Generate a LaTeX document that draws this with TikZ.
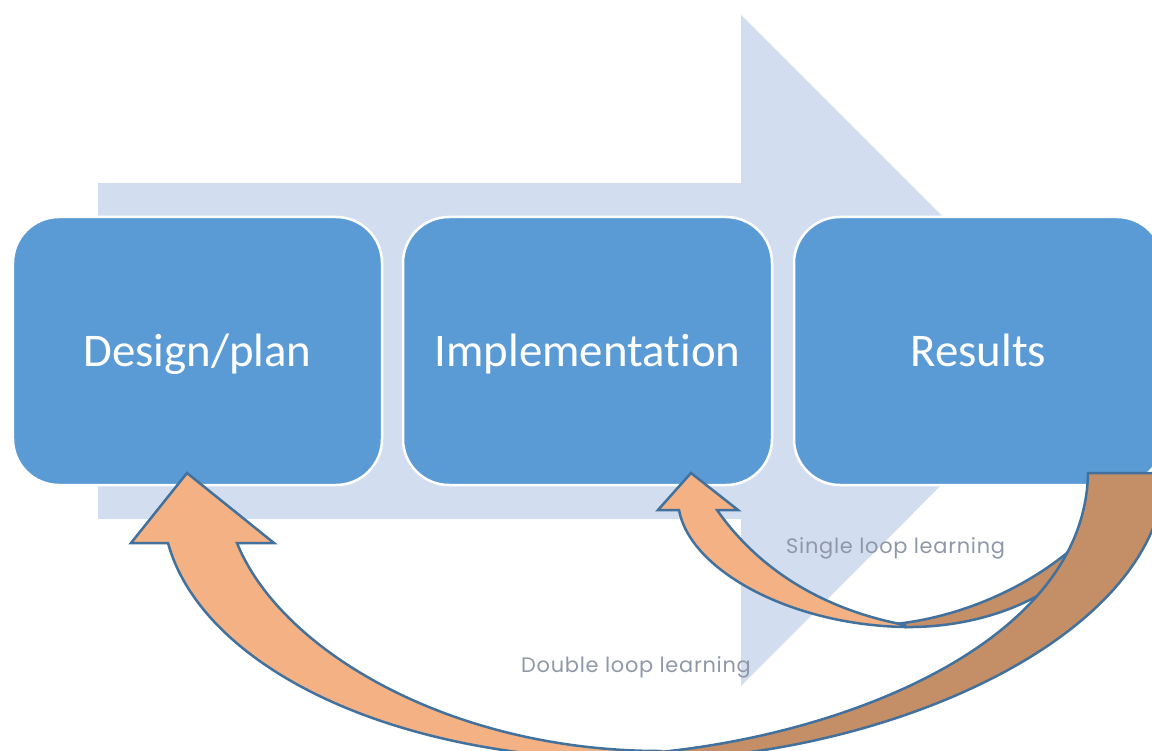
\documentclass[tikz,border=0pt]{standalone}
\usepackage{fontspec}
\usepackage{xcolor}
\setmainfont{Carlito}[Ligatures=NoCommon]
\newfontfamily\noteFont{Poppins}[LetterSpace=3.5]
\definecolor{bandColor}{HTML}{D2DEEF}
\definecolor{boxColor}{HTML}{5B9BD5}
\definecolor{loopFrontColor}{HTML}{F4B183}
\definecolor{loopBackColor}{HTML}{C48E66}
\definecolor{loopLineColor}{HTML}{41719C}
\definecolor{noteColor}{HTML}{8F98A8}
\def\textA{Design/plan}
\def\textB{Implementation}
\def\textC{Results}
\def\textD{Single loop learning}
\def\textE{Double loop learning}
\tikzset{
  stagebox/.style={draw=white, line width=2.5bp, fill=boxColor, rounded corners=46bp,
    minimum width=369bp, minimum height=268bp, inner sep=0pt, text=white,
    font=\fontsize{47}{56}\selectfont, text height=30bp, text depth=0bp},
  loopfront/.style={fill=loopFrontColor, draw=loopLineColor, line width=2.5bp},
  loopback/.style={fill=loopBackColor, draw=loopLineColor, line width=2.5bp},
  note/.style={text=noteColor, font=\noteFont\fontsize{21}{25}\selectfont,
    anchor=base west, inner sep=0pt}
}

\begin{document}
\begin{tikzpicture}[x=1bp,y=-1bp]
\useasboundingbox (0,0) rectangle (1152,751);
\clip (0,0) rectangle (1152,751);

% band layer
\begin{scope}
\fill[bandColor] (98,183) -- (741,183) -- (741,15) -- (1076,350)
  -- (741,686) -- (741,519) -- (98,519) -- cycle;
\end{scope}

% box layer
\begin{scope}
\node[stagebox] (design) at (197.5,351) {\textA};
\node[stagebox] (implement) at (587.5,351) {\textB};
\node[stagebox] (results) at (978.5,351) {\textC};
\end{scope}

% loop layer (back faces first)
\begin{scope}
\draw[loopback] (895,624) .. controls (980,615) and (1060,570) .. (1100,520)
  -- (1100,540) .. controls (1060,600) and (980,628) .. (905,627) -- cycle;
\draw[loopback] (1088,473) -- (1165,473) .. controls (1160,640) and (880,760) .. (640,760)
  -- (650,753) .. controls (850,735) and (1085,640) .. (1088,473) -- cycle;
\draw[loopfront] (187,473) -- (274,543) -- (237,543)
  .. controls (280,650) and (450,751) .. (660,751)
  -- (650,760) .. controls (380,762) and (200,660) .. (168,543)
  -- (131,543) -- cycle;
\draw[loopfront] (691,473) -- (738,510) -- (717,510)
  .. controls (745,550) and (800,605) .. (905,625)
  -- (905,627) .. controls (790,625) and (690,570) .. (679,510)
  -- (658,510) -- cycle;
\end{scope}

% label layer
\begin{scope}
\node[note] (single) at (786,553) {\textD};
\node[note] (double) at (521,672) {\textE};
\end{scope}

\end{tikzpicture}
\end{document}
